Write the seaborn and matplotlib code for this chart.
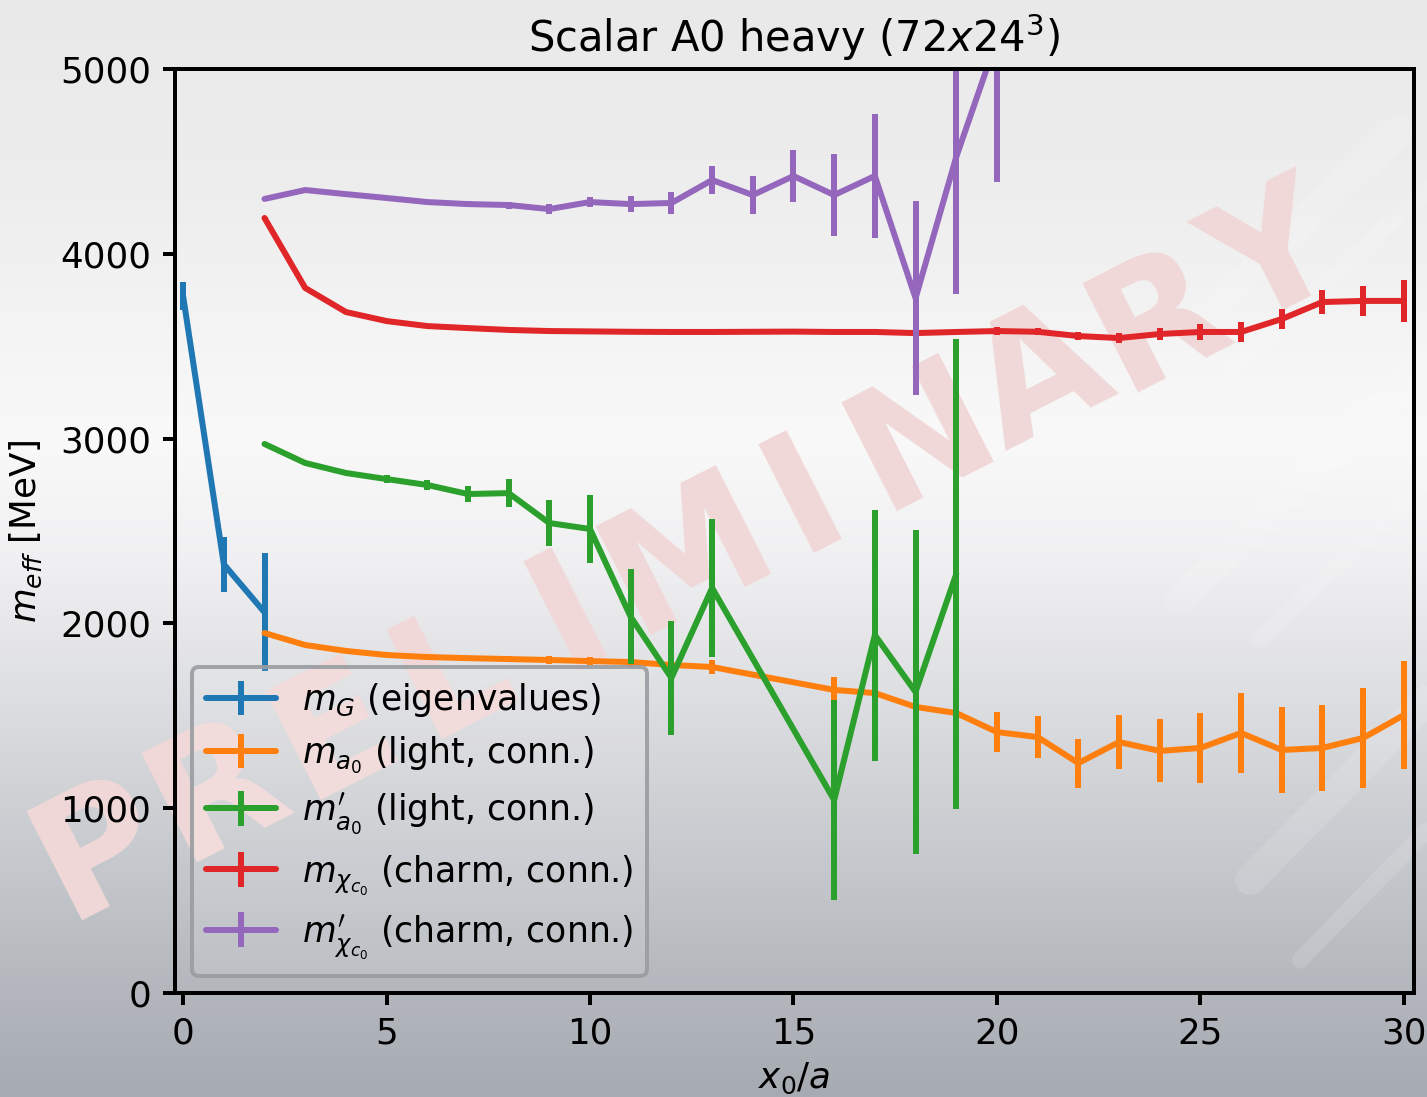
import numpy as np
import pandas as pd
import matplotlib
matplotlib.use("Agg")
import matplotlib.pyplot as plt
import seaborn as sns
from matplotlib.container import ErrorbarContainer

# ---- data -------------------------------------------------------------
x_G = [0, 1, 2]
m_G = [3770, 2320, 2060]
e_G = [75, 150, 320]

x_a0 = [2, 3, 4, 5, 6, 7, 8, 9, 10, 11, 12, 13, 16, 17, 18, 19, 20, 21, 22,
        23, 24, 25, 26, 27, 28, 29, 30]
m_a0 = [1948, 1883, 1851, 1829, 1818, 1812, 1807, 1802, 1796, 1791, 1775,
        1764, 1640, 1623, 1548, 1515, 1412, 1385, 1244, 1358, 1310, 1326,
        1407, 1315, 1326, 1380, 1504]
e_a0 = [5, 5, 5, 6, 8, 10, 15, 20, 20, 25, 30, 40, 70, 80, 90, 100, 108,
        115, 133, 146, 170, 190, 214, 235, 233, 273, 290]

x_a0p = [2, 3, 4, 5, 6, 7, 8, 9, 10, 11, 12, 13, 16, 17, 18, 19]
m_a0p = [2971, 2868, 2814, 2781, 2749, 2700, 2705, 2543, 2511, 2035, 1705,
         2192, 1044, 1937, 1629, 2267]
e_a0p = [8, 10, 12, 22, 27, 45, 75, 126, 185, 257, 308, 373, 543, 679, 879,
         1272]

x_chi = list(range(2, 31))
m_chi = [4194, 3815, 3685, 3636, 3609, 3598, 3588, 3582, 3580, 3578, 3577,
         3577, 3578, 3579, 3577, 3577, 3571, 3577, 3582, 3578, 3555, 3544,
         3566, 3577, 3577, 3647, 3739, 3745, 3745]
e_chi = [3, 3, 3, 3, 3, 3, 4, 4, 4, 5, 5, 5, 6, 6, 7, 8, 9, 10, 20, 20, 22,
         27, 32, 43, 54, 52, 66, 80, 113]

x_chip = list(range(2, 21))
m_chip = [4297, 4345, 4323, 4302, 4280, 4269, 4264, 4242, 4280, 4269, 4275,
          4399, 4318, 4421, 4318, 4421, 3760, 4524, 5160]
e_chip = [5, 5, 8, 10, 12, 15, 19, 25, 27, 43, 58, 75, 102, 141, 224, 338,
          525, 741, 770]

labels = [r"$m_G$ (eigenvalues)",
          r"$m_{a_0}$ (light, conn.)",
          r"$m^{\prime}_{a_0}$ (light, conn.)",
          r"$m_{\chi_{c_0}}$ (charm, conn.)",
          r"$m^{\prime}_{\chi_{c_0}}$ (charm, conn.)"]
colors = ["#1f77b4", "#ff7f0e", "#2ca02c", "#e02628", "#9467bd"]

series = [(x_G, m_G, e_G), (x_a0, m_a0, e_a0), (x_a0p, m_a0p, e_a0p),
          (x_chi, m_chi, e_chi), (x_chip, m_chip, e_chip)]

# ---- style ------------------------------------------------------------
sns.set_style("ticks", {"axes.edgecolor": "black", "xtick.color": "black",
                        "ytick.color": "black", "text.color": "black",
                        "axes.labelcolor": "black"})
plt.rcParams["font.family"] = ["DejaVu Sans"]
plt.rcParams["mathtext.fontset"] = "dejavusans"

W, H, DPI = 1427, 1097, 240
fig = plt.figure(figsize=(W / DPI, H / DPI), dpi=DPI)

# slide background: vertical gradient
bg = fig.add_axes([0, 0, 1, 1], zorder=-10)
stops_y = np.array([0, 200, 440, 560, 700, 850, 1000, 1097]) / H
stops_c = np.array([[233, 233, 233], [238, 238, 238], [249, 249, 249],
                    [240, 240, 242], [221, 222, 225], [199, 202, 206],
                    [178, 182, 188], [166, 171, 178]]) / 255.0
yy = np.linspace(0, 1, H)
grad = np.stack([np.interp(yy, stops_y, stops_c[:, k]) for k in range(3)],
                axis=-1)[:, None, :]
bg.imshow(grad, aspect="auto", extent=[0, 1, 0, 1], origin="upper")
bg.set_xlim(0, 1)
bg.set_ylim(0, 1)
bg.axis("off")

# faint diagonal bands of the slide logo at the right edge
for (xa, ya, xb, yb, lw) in [(1190, 330, 1400, 130, 9), (1230, 370, 1427, 190, 5),
                             (1180, 600, 1427, 360, 9), (1260, 640, 1427, 480, 5),
                             (1250, 880, 1427, 700, 9), (1300, 960, 1427, 830, 5)]:
    bg.plot([xa / W, xb / W], [1 - ya / H, 1 - yb / H], color="white",
            alpha=0.13, lw=lw, solid_capstyle="round", zorder=0.5)

# watermark lettering, placed letter by letter along a slanted baseline
word = "PRELIMINARY"
p0 = np.array([100.0, 850.0])
p1 = np.array([1276.0, 262.0])
for i, ch in enumerate(word):
    px, py = p0 + (p1 - p0) * i / (len(word) - 1)
    bg.text(px / W, 1 - py / H, ch, fontsize=50, fontweight="bold",
            color="#f1d8d8", rotation=27, ha="center", va="center",
            rotation_mode="anchor", zorder=1)

# ---- main axes --------------------------------------------------------
ax = fig.add_axes([175 / W, 1 - 993 / H, (1414 - 175) / W, (993 - 69) / H])
ax.set_facecolor("none")

handles = []
for (xs, ys, es), lab, col in zip(series, labels, colors):
    df = pd.DataFrame({"x": xs, "m": ys})
    n_before = len(ax.lines)
    sns.lineplot(data=df, x="x", y="m", ax=ax, color=col, linewidth=1.8,
                 estimator=None, sort=False, legend=False)
    line = ax.lines[n_before]
    eb = ax.errorbar(xs, ys, yerr=es, fmt="none", ecolor=col,
                     elinewidth=1.8, capsize=0)
    handles.append(ErrorbarContainer((line, eb.lines[1], eb.lines[2]),
                                     has_xerr=False, has_yerr=True,
                                     label=lab))

ax.set_xlim(-0.2, 30.25)
ax.set_ylim(0, 5000)
ax.set_xticks([0, 5, 10, 15, 20, 25, 30])
ax.set_yticks([0, 1000, 2000, 3000, 4000, 5000])
for s in ax.spines.values():
    s.set_visible(True)
    s.set_linewidth(1.2)
ax.tick_params(axis="both", labelsize=10.7, length=3.6, width=1.2,
               direction="out", pad=3.5)
ax.set_xlabel(r"$x_0/a$", fontsize=10.7, labelpad=3)
ax.set_ylabel(r"$m_{eff}$ [MeV]", fontsize=10.7, labelpad=5)
ax.set_title(r"Scalar A0 heavy ($72x24^3$)", fontsize=12.5, pad=5)

leg = ax.legend(handles=handles, labels=labels, loc="lower left",
                fontsize=10.4, frameon=True, fancybox=True,
                handlelength=2.0, handletextpad=0.75, labelspacing=0.45)
frame = leg.get_frame()
frame.set_alpha(None)
frame.set_facecolor((1, 1, 1, 0.1))
frame.set_edgecolor((0.6, 0.61, 0.63, 0.9))
frame.set_linewidth(1.2)

fig.savefig("out.png", dpi=DPI)
